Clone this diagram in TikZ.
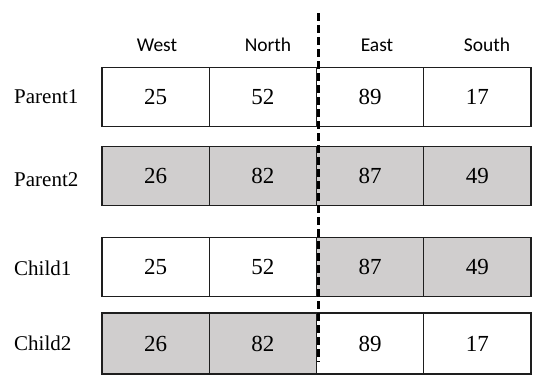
\documentclass[tikz,border=0pt]{standalone}
\usepackage{fontspec}
\setmainfont{Liberation Serif}
\newfontfamily\hdrfont{Carlito}
\definecolor{cellgray}{RGB}{208,206,206}
\definecolor{edgecol}{RGB}{30,30,30}
\begin{document}
\begin{tikzpicture}[x=1pt,y=-1pt,
  cell/.style={draw=edgecol,line width=1.4pt,minimum width=107.25pt,minimum height=59pt,inner sep=0pt,font=\fontsize{23}{26}\selectfont,text=black},
  gcell/.style={cell,fill=cellgray},
  rowlabel/.style={anchor=west,inner sep=0pt,font=\fontsize{21}{24}\selectfont},
  hdr/.style={inner sep=0pt,font=\hdrfont\fontsize{19.5}{22}\selectfont}]
\useasboundingbox (0,0) rectangle (550,381);
% headers
\node[hdr] (hW) at (157,45) {West};
\node[hdr] (hN) at (268,45) {North};
\node[hdr] (hE) at (377,45) {East};
\node[hdr] (hS) at (487,45) {South};
% row labels
\node[rowlabel] (lP1) at (14,97) {Parent1};
\node[rowlabel] (lP2) at (14,180) {Parent2};
\node[rowlabel] (lC1) at (14,268) {Child1};
\node[rowlabel] (lC2) at (14,343) {Child2};
% Parent1
\node[cell] (p1a) at (155.625,97) {25};
\node[cell] (p1b) at (262.875,97) {52};
\node[cell] (p1c) at (370.125,97) {89};
\node[cell] (p1d) at (477.375,97) {17};
% Parent2
\node[gcell] (p2a) at (155.625,176) {26};
\node[gcell] (p2b) at (262.875,176) {82};
\node[gcell] (p2c) at (370.125,176) {87};
\node[gcell] (p2d) at (477.375,176) {49};
% Child1
\node[cell] (c1a) at (155.625,267) {25};
\node[cell] (c1b) at (262.875,267) {52};
\node[gcell] (c1c) at (370.125,267) {87};
\node[gcell] (c1d) at (477.375,267) {49};
% Child2
\node[gcell,minimum height=61pt] (c2a) at (155.625,343.5) {26};
\node[gcell,minimum height=61pt] (c2b) at (262.875,343.5) {82};
\node[cell,minimum height=61pt] (c2c) at (370.125,343.5) {89};
\node[cell,minimum height=61pt] (c2d) at (477.375,343.5) {17};
% dashed crossover line
\coordinate (dtop) at (318.5,13);
\coordinate (dbot) at (318.5,362);
\draw[line width=2.6pt,dash pattern=on 8pt off 4pt,black] (dtop) -- (dbot);
\end{tikzpicture}
\end{document}
